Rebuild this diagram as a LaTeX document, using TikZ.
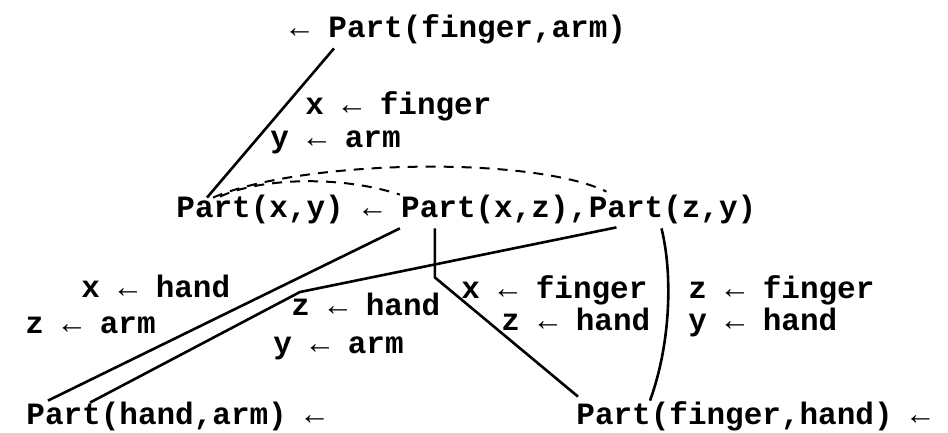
\documentclass[tikz,border=0pt]{standalone}
\usepackage{fontspec}
\newfontfamily\tty{Liberation Mono}
\usetikzlibrary{calc,positioning}
\tikzset{lit/.style={font=\tty\bfseries\fontsize{15.5pt}{18pt}\selectfont,inner sep=0pt,
    text height=9.5pt,text depth=3pt,anchor=base west},
  link/.style={line width=1.3pt},
  share/.style={line width=1pt,dash pattern=on 5pt off 4pt}}
\begin{document}
\begin{tikzpicture}[x=0.5pt,y=-0.5pt]
\useasboundingbox (0,0) rectangle (948,433);
% goal
\node[lit] (topimp) at (290,38) {←};
\node[lit,right=9.3pt of topimp] (goal) {Part(finger,arm)};
\node[lit] (g1) at (305,115) {x ← finger};
\node[lit] (g2) at (270,148) {y ← arm};
% rule
\node[lit] (head) at (176,217) {Part(x,y)};
\node[lit,right=9.3pt of head] (imp) {←};
\node[lit,right=9.3pt of imp] (bxz) {Part(x,z)};
\node[lit,right=0pt of bxz] (comma) {,};
\node[lit,right=0pt of comma] (bzy) {Part(z,y)};
% bindings
\node[lit] (l1) at (81,297) {x ← hand};
\node[lit] (l2) at (25,333) {z ← arm};
\node[lit] (m1) at (291,315) {z ← hand};
\node[lit] (m2) at (273,353) {y ← arm};
\node[lit] (r1) at (461,298) {x ← finger};
\node[lit] (r2) at (501,330) {z ← hand};
\node[lit] (s1) at (688,298) {z ← finger};
\node[lit] (s2) at (688,330) {y ← hand};
% facts
\node[lit] (pha) at (26,424) {Part(hand,arm) ←};
\node[lit] (pfh) at (576,424) {Part(finger,hand) ←};
% links
\draw[link] ($(goal.south west)+(6,4)$) -- ($(head.north west)+(31,0)$);
\draw[share] ($(head.north west)+(44,-1)$) .. controls (260,178) and (340,175) .. ($(bxz.north west)+(-1,-3)$);
\draw[share] ($(head.north west)+(37,0)$) .. controls (300,160) and (530,155) .. ($(bzy.north west)+(18,-6)$);
\draw[link] ($(bxz.south west)+(-1,5)$) -- ($(pha.north west)+(22,-4)$);
\draw[link] ($(bzy.south west)+(28,4)$) -- (300,292) -- ($(pha.north west)+(64,-2)$);
\draw[link] ($(bxz.south west)+(34,5)$) -- ++(0,49) -- ($(pfh.north west)+(2,-8)$);
\draw[link] ($(bzy.south west)+(73,5)$) .. controls (672,270) and (672,340) .. ($(pfh.north west)+(74,-4)$);
\end{tikzpicture}
\end{document}
